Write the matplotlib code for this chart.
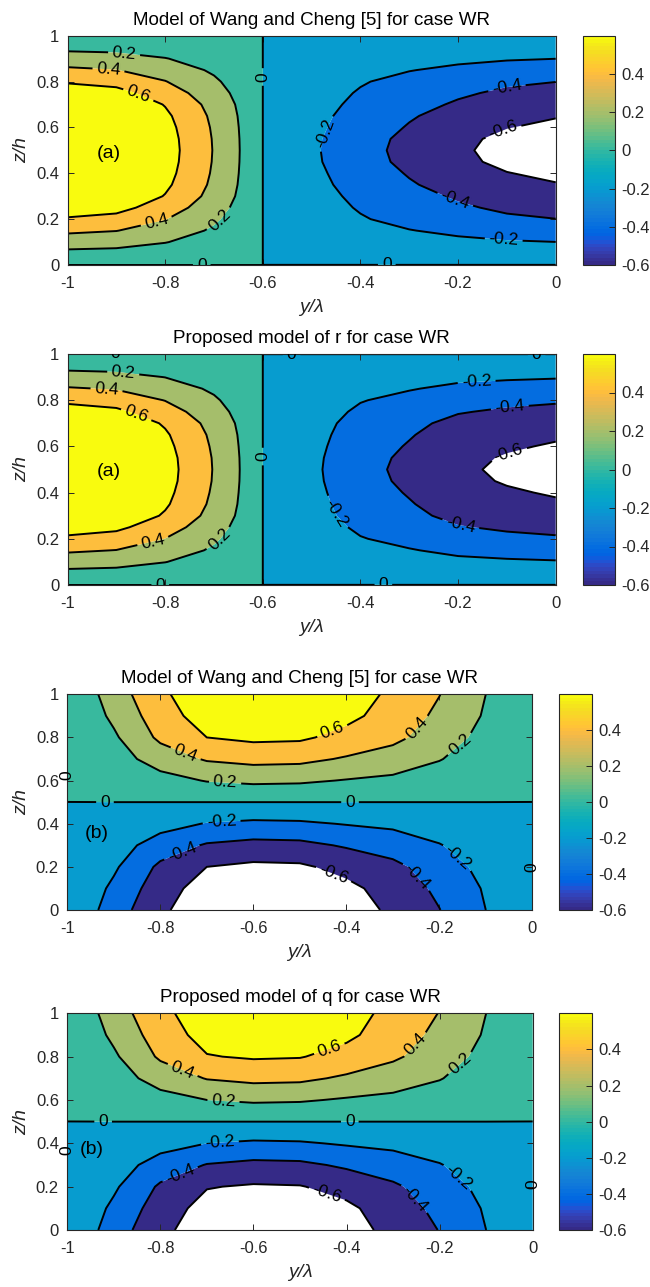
import numpy as np
import matplotlib
matplotlib.use("Agg")
import matplotlib.pyplot as plt
from matplotlib.colors import ListedColormap, Normalize
from matplotlib.cm import ScalarMappable

plt.rcParams['font.family'] = ['Liberation Sans', 'DejaVu Sans']

# =========================
# DATA
# =========================
levels = [-0.6, -0.4, -0.2, 0.0, 0.2, 0.4, 0.6]
cbar_ticks = [-0.6, -0.4, -0.2, 0.0, 0.2, 0.4]
cbar_ticklabels = ['-0.6', '-0.4', '-0.2', '0', '0.2', '0.4']
x_ticks = [-1, -0.8, -0.6, -0.4, -0.2, 0]
x_ticklabels = ['-1', '-0.8', '-0.6', '-0.4', '-0.2', '0']
y_ticks = [0, 0.2, 0.4, 0.6, 0.8, 1]
y_ticklabels = ['0', '0.2', '0.4', '0.6', '0.8', '1']

titles = ['Model of Wang and Cheng [5] for case WR',
          'Proposed model of r for case WR',
          'Model of Wang and Cheng [5] for case WR',
          'Proposed model of q for case WR']
tags = ['(a)', '(a)', '(b)', '(b)']

# ---- r (panels a): values at z/h = 0.5 on each side of y = -0.6, and z-profiles
r_z = [0.0, 0.05, 0.1, 0.15, 0.2, 0.25, 0.3, 0.35, 0.4, 0.45, 0.5,
       0.55, 0.6, 0.65, 0.7, 0.75, 0.8, 0.85, 0.9, 0.95, 1.0]
r_y_left = [-1.0, -0.9, -0.8, -0.7, -0.6]
r_y_right = [-0.5999, -0.5, -0.4, -0.3, -0.2, -0.1, 0.0]

r1_left = [0.98, 0.91, 0.69, 0.39, 0.03]
r1_right = [-0.07, -0.17, -0.33, -0.46, -0.57, -0.66, -0.71]
r1_zprof_left = [0, 0.15, 0.30, 0.445, 0.59, 0.73, 0.855, 0.925, 0.965, 0.99, 1.0,
                 0.99, 0.965, 0.925, 0.855, 0.73, 0.59, 0.445, 0.30, 0.15, 0]
r1_zprof_right = [-0.002, 0.14, 0.28, 0.42, 0.56, 0.655, 0.74, 0.83, 0.90, 0.975, 1.0,
                  0.975, 0.90, 0.83, 0.74, 0.655, 0.56, 0.42, 0.28, 0.14, 0]

r2_left = [0.96, 0.89, 0.68, 0.39, 0.03]
r2_right = [-0.07, -0.16, -0.34, -0.45, -0.57, -0.63, -0.67]
r2_zprof_left = [0, 0.15, 0.30, 0.445, 0.585, 0.72, 0.85, 0.92, 0.96, 0.99, 1.0,
                 0.99, 0.96, 0.92, 0.85, 0.72, 0.58, 0.435, 0.29, 0.145, 0]
r2_zprof_right = [-0.002, 0.14, 0.28, 0.42, 0.56, 0.68, 0.79, 0.86, 0.92, 0.975, 1.0,
                  0.975, 0.92, 0.86, 0.79, 0.68, 0.56, 0.42, 0.28, 0.14, -0.002]

# ---- q (panels b): upper half rows z/h = 0.6 ... 1.0, lower half mirrors with opposite sign
q_z = [0.0, 0.1, 0.2, 0.3, 0.4, 0.5, 0.6, 0.7, 0.8, 0.9, 1.0]
q_y = [-1.0, -0.9, -0.8, -0.7, -0.6, -0.5, -0.4, -0.3, -0.2, -0.1, 0.0]
q_mid = -1e-5   # value along z/h = 0.5

q3_upper = [
    [0.001, 0.06, 0.13, 0.21, 0.24, 0.23, 0.19, 0.16, 0.10, 0.04, 0.001],
    [0.001, 0.11, 0.29, 0.42, 0.46, 0.45, 0.38, 0.31, 0.21, 0.09, 0.001],
    [0.001, 0.17, 0.44, 0.60, 0.64, 0.63, 0.54, 0.45, 0.30, 0.14, 0.001],
    [0.001, 0.24, 0.51, 0.69, 0.76, 0.75, 0.65, 0.52, 0.36, 0.18, 0.001],
    [0.001, 0.30, 0.56, 0.74, 0.82, 0.80, 0.72, 0.555, 0.405, 0.20, 0.001],
]
q4_upper = [
    [0.001, 0.06, 0.13, 0.20, 0.23, 0.22, 0.18, 0.15, 0.10, 0.04, 0.001],
    [0.001, 0.11, 0.28, 0.41, 0.45, 0.44, 0.37, 0.30, 0.21, 0.09, 0.001],
    [0.001, 0.17, 0.43, 0.59, 0.62, 0.61, 0.53, 0.43, 0.30, 0.14, 0.001],
    [0.001, 0.24, 0.50, 0.67, 0.74, 0.73, 0.64, 0.50, 0.35, 0.18, 0.001],
    [0.001, 0.30, 0.55, 0.71, 0.80, 0.79, 0.72, 0.515, 0.395, 0.20, 0.001],
]

# parula (64)
PARULA = [
    (0.2081, 0.1663, 0.5292), (0.2116, 0.1898, 0.5777), (0.2123, 0.2138, 0.6270), (0.2081, 0.2386, 0.6771),
    (0.1959, 0.2645, 0.7279), (0.1707, 0.2919, 0.7792), (0.1253, 0.3242, 0.8303), (0.0591, 0.3598, 0.8683),
    (0.0117, 0.3875, 0.8820), (0.0060, 0.4086, 0.8828), (0.0165, 0.4266, 0.8786), (0.0329, 0.4430, 0.8720),
    (0.0498, 0.4586, 0.8641), (0.0629, 0.4737, 0.8554), (0.0723, 0.4887, 0.8467), (0.0779, 0.5040, 0.8384),
    (0.0793, 0.5200, 0.8312), (0.0749, 0.5375, 0.8263), (0.0641, 0.5570, 0.8240), (0.0488, 0.5772, 0.8228),
    (0.0343, 0.5966, 0.8199), (0.0265, 0.6137, 0.8135), (0.0239, 0.6287, 0.8038), (0.0231, 0.6418, 0.7913),
    (0.0228, 0.6535, 0.7768), (0.0267, 0.6642, 0.7607), (0.0384, 0.6743, 0.7436), (0.0590, 0.6838, 0.7254),
    (0.0843, 0.6928, 0.7062), (0.1133, 0.7015, 0.6859), (0.1453, 0.7098, 0.6646), (0.1801, 0.7177, 0.6424),
    (0.2178, 0.7250, 0.6193), (0.2586, 0.7317, 0.5954), (0.3022, 0.7376, 0.5712), (0.3482, 0.7424, 0.5473),
    (0.3953, 0.7459, 0.5244), (0.4420, 0.7481, 0.5033), (0.4871, 0.7491, 0.4840), (0.5300, 0.7491, 0.4661),
    (0.5709, 0.7485, 0.4494), (0.6099, 0.7473, 0.4337), (0.6473, 0.7456, 0.4188), (0.6834, 0.7435, 0.4044),
    (0.7184, 0.7411, 0.3905), (0.7525, 0.7384, 0.3768), (0.7858, 0.7356, 0.3633), (0.8185, 0.7327, 0.3498),
    (0.8507, 0.7299, 0.3360), (0.8824, 0.7274, 0.3217), (0.9139, 0.7258, 0.3063), (0.9450, 0.7261, 0.2886),
    (0.9739, 0.7314, 0.2666), (0.9938, 0.7455, 0.2403), (0.9990, 0.7653, 0.2164), (0.9955, 0.7861, 0.1967),
    (0.9880, 0.8066, 0.1794), (0.9789, 0.8271, 0.1633), (0.9697, 0.8481, 0.1475), (0.9626, 0.8705, 0.1309),
    (0.9589, 0.8949, 0.1132), (0.9598, 0.9218, 0.0948), (0.9661, 0.9514, 0.0755), (0.9763, 0.9831, 0.0538),
]
parula = ListedColormap(PARULA, name='parula')
band_colors = [parula(min(int((v + 0.6) / 1.2 * 64), 63)) for v in levels]


# =========================
# FIELDS
# =========================
def r_field(left, right, prof_left, prof_right):
    y = np.r_[r_y_left, r_y_right]
    Z = np.hstack([np.outer(prof_left, left), np.outer(prof_right, right)])
    return y, np.array(r_z), Z


def q_field(upper):
    upper = np.array(upper)
    mid = np.full((1, upper.shape[1]), q_mid)
    Z = np.vstack([-upper[::-1], mid, upper])
    return np.array(q_y), np.array(q_z), Z


fields = [r_field(r1_left, r1_right, r1_zprof_left, r1_zprof_right),
          r_field(r2_left, r2_right, r2_zprof_left, r2_zprof_right),
          q_field(q3_upper),
          q_field(q4_upper)]

label_pos = [
    [(-0.884, 0.923), (-0.916, 0.85), (-0.858, 0.727), (-0.817, 0.182), (-0.688, 0.196),
     (-0.725, 0.0), (-0.6, 0.82), (-0.473, 0.574), (-0.100, 0.775), (-0.111, 0.603),
     (-0.213, 0.247), (-0.107, 0.097), (-0.346, 0.0)],
    [(-0.903, 1.0), (-0.886, 0.916), (-0.92, 0.844), (-0.862, 0.722), (-0.824, 0.18),
     (-0.691, 0.202), (-0.81, 0.0), (-0.541, 1.0), (-0.6, 0.556), (-0.162, 0.88),
     (-0.094, 0.769), (-0.097, 0.577), (-0.196, 0.245), (-0.452, 0.31), (-0.353, 0.0),
     (-0.039, 1.0)],
    [(-0.751, 0.696), (-0.661, 0.575), (-0.919, 0.5), (-0.668, 0.402),
     (-0.754, 0.27), (-0.428, 0.818), (-0.238, 0.825), (-0.145, 0.742), (-0.392, 0.5),
     (-0.156, 0.255), (-0.245, 0.162), (-0.428, 0.162)],
    [(-0.758, 0.707), (-0.665, 0.577), (-0.923, 0.5), (-0.672, 0.4),
     (-0.758, 0.26), (-0.436, 0.83), (-0.243, 0.837), (-0.146, 0.745), (-0.393, 0.5),
     (-0.156, 0.254), (-0.249, 0.154), (-0.443, 0.162)],
]
# zero labels sitting on the side walls
edge_labels = [[], [], [(-1.0, 0.626), (0.0, 0.2)], [(-1.0, 0.37), (0.0, 0.21)]]
tag_pos = [(-0.916, 0.487), (-0.916, 0.49), (-0.937, 0.356), (-0.948, 0.37)]

# pixel boxes: axes (left, top, right, bottom), colorbar (left, right)
ax_boxes = [(67.5, 35.7, 555.7, 265.0), (67.5, 354.0, 555.7, 585.0),
            (67.3, 694.3, 532.3, 910.0), (67.3, 1013.3, 532.7, 1230.0)]
cb_boxes = [(583.3, 614.7), (583.3, 614.7), (559.3, 591.7), (559.3, 591.7)]

W, H = 650, 1287
fig = plt.figure(figsize=(W / 100, H / 100), dpi=100)
dark = '#262626'
fs_tick = 12
fs_clab = 12.5

for i in range(4):
    l, t, r, b = ax_boxes[i]
    ax = fig.add_axes([l / W, 1 - b / H, (r - l) / W, (b - t) / H])
    cl, cr = cb_boxes[i]
    cax = fig.add_axes([cl / W, 1 - b / H, (cr - cl) / W, (b - t) / H])

    y, z, Z = fields[i]
    ax.contourf(y, z, Z, levels=levels + [1.0], colors=band_colors, antialiased=True)
    cs = ax.contour(y, z, Z, levels=levels, colors='k', linewidths=1.4, linestyles='solid')
    ax.clabel(cs, manual=label_pos[i], inline=True, inline_spacing=4,
              fontsize=fs_clab, fmt=lambda v: f'{v:g}')
    for ex, ez in edge_labels[i]:
        ax.text(ex, ez, '0', fontsize=fs_clab, rotation=90, ha='center', va='center',
                clip_on=False, zorder=5)
    ax.text(tag_pos[i][0], tag_pos[i][1], tags[i], fontsize=14, ha='center', va='center')

    ax.set_xlim(-1, 0)
    ax.set_ylim(0, 1)
    ax.set_xticks(x_ticks)
    ax.set_xticklabels(x_ticklabels)
    ax.set_yticks(y_ticks)
    ax.set_yticklabels(y_ticklabels)
    ax.tick_params(direction='in', top=True, right=True, length=4, width=0.7,
                   labelsize=fs_tick, colors=dark, pad=6)
    ax.tick_params(axis='x', pad=8)
    for s in ax.spines.values():
        s.set_color(dark)
        s.set_linewidth(0.8)
    ax.set_title(titles[i], fontsize=13.5, pad=8)
    ax.set_xlabel('y/λ', fontsize=14, fontstyle='italic', labelpad=6, color=dark)
    ax.set_ylabel('z/h', fontsize=14, fontstyle='italic', labelpad=4, color=dark)

    sm = ScalarMappable(norm=Normalize(-0.6, 0.6), cmap=parula)
    cb = fig.colorbar(sm, cax=cax, ticks=cbar_ticks)
    cb.set_ticklabels(cbar_ticklabels)
    cb.ax.tick_params(direction='in', length=4, width=0.7, labelsize=fs_tick, colors=dark, pad=5)
    cb.outline.set_edgecolor(dark)
    cb.outline.set_linewidth(0.8)

fig.savefig('out.png', dpi=100)
